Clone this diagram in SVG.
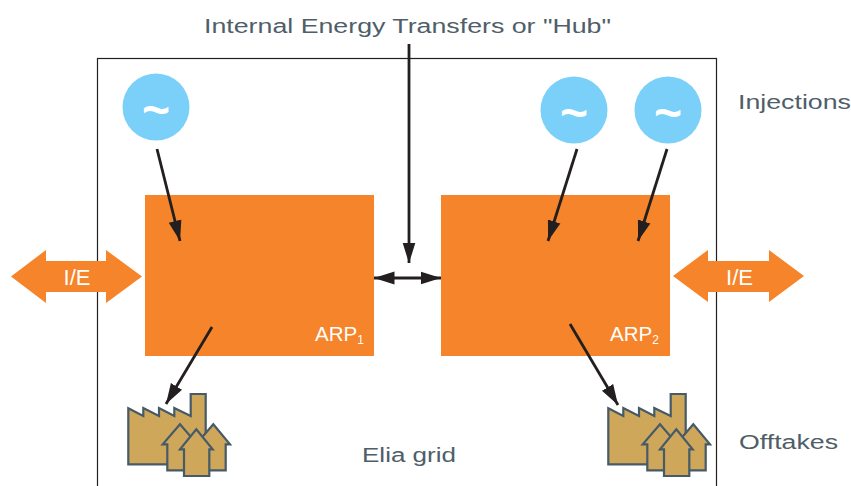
<svg xmlns="http://www.w3.org/2000/svg" width="851" height="486" viewBox="0 0 851 486">
<style>
.lbl{font-family:"Liberation Sans",Arial,sans-serif;font-size:19.5px;fill:#4f5e69}
.w{font-family:"Liberation Sans",Arial,sans-serif;font-size:20.500px;fill:#fff}
.ie{font-size:22px}
.s{font-size:12px}
.t{font-family:"Liberation Sans",Arial,sans-serif;font-size:48px;font-weight:bold;fill:#fff;text-anchor:middle}
.c{fill:#7ad0f8}
.o{fill:#f5842a}
.f{fill:#cfa75a;stroke:#465a68;stroke-width:2.2;stroke-linejoin:miter}
.a{stroke:#231f20;stroke-width:2.8;fill:none}
</style>
<defs>
<marker id="ah" markerUnits="userSpaceOnUse" markerWidth="21" markerHeight="14" refX="20.500" refY="7" orient="auto-start-reverse"><path d="M0 0.500L20.500 7L0 13.500Z" fill="#231f20"/></marker>
<g id="fac">
<path class="f" d="M128.300 408.300L143.300 416V408L159 416V408L174.300 416V408L190.700 416V394H205.700V440H180V464.300H128.300Z"/>
<path class="f" d="M167.300 470.300V444.300H162.700L180 424.300L197.300 444.300H192.700V470.300Z"/>
<path class="f" d="M200.700 470.300V444.300H196L213.300 424.300L230 444.300H225.700V470.300Z"/>
<path class="f" d="M184 476V449.300H180L196.300 429.300L212.700 449.300H209.300V476Z"/>
</g>
</defs>
<rect x="97.500" y="58.500" width="619" height="440" fill="#fff" stroke="#231f20" stroke-width="1.200"/>
<g id="arp1"><rect class="o" x="145" y="195" width="229" height="161"/><text class="w" x="315" y="341">ARP<tspan class="s" dy="3">1</tspan></text></g>
<g id="arp2"><rect class="o" x="441" y="195" width="229" height="161"/><text class="w" x="610" y="341">ARP<tspan class="s" dy="3">2</tspan></text></g>
<g id="ie1"><path class="o" d="M11 276.500L46 250V261H106V250L142 276.500L106 303V292H46V303Z"/><text class="w ie" x="77" y="285" text-anchor="middle">I/E</text></g>
<g id="ie2"><path class="o" d="M673 276L708 250V261H769V250L804 276L769 302V292H708V302Z"/><text class="w ie" x="739.500" y="285" text-anchor="middle">I/E</text></g>
<g id="gen1"><circle class="c" cx="156" cy="107" r="33.500"/><text class="t" x="156" y="126">~</text></g>
<g id="gen2"><circle class="c" cx="574" cy="110" r="33.500"/><text class="t" x="574" y="129">~</text></g>
<g id="gen3"><circle class="c" cx="668" cy="110" r="33.500"/><text class="t" x="668" y="129">~</text></g>
<g id="load1"><use href="#fac"/></g>
<g id="load2"><use href="#fac" x="480"/></g>
<g id="connectors">
<path class="a" marker-end="url(#ah)" d="M157 149L180 241"/>
<path class="a" marker-end="url(#ah)" d="M577 149L548 241"/>
<path class="a" marker-end="url(#ah)" d="M667 149L638 241"/>
<path class="a" marker-end="url(#ah)" d="M212 327L166 404"/>
<path class="a" marker-end="url(#ah)" d="M570 324L618 405"/>
<path class="a" marker-end="url(#ah)" d="M409 44V263"/>
<path class="a" marker-start="url(#ah)" marker-end="url(#ah)" d="M374 278H441"/>
</g>
<text class="lbl" x="204" y="33" textLength="407" lengthAdjust="spacingAndGlyphs">Internal Energy Transfers or "Hub"</text>
<text class="lbl" x="738" y="109" textLength="113" lengthAdjust="spacingAndGlyphs">Injections</text>
<text class="lbl" x="739" y="449" textLength="99" lengthAdjust="spacingAndGlyphs">Offtakes</text>
<text class="lbl" x="362" y="462" textLength="94" lengthAdjust="spacingAndGlyphs">Elia grid</text>
</svg>
